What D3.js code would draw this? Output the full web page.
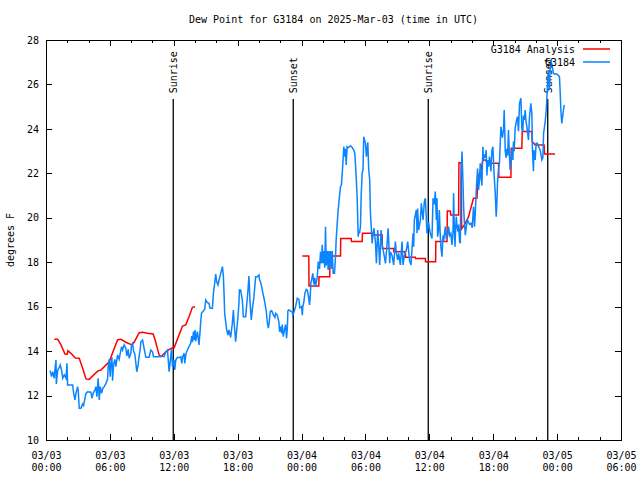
<!DOCTYPE html>
<html><head><meta charset="utf-8">
<script src="https://cdn.jsdelivr.net/npm/d3@7/dist/d3.min.js"></script>
<style>
body{margin:0;background:#fff}
svg{display:block}
text{font-family:"DejaVu Sans Mono","Liberation Mono",monospace;font-size:10px;fill:#000}
</style>
</head><body>
<svg id="chart" width="640" height="480"></svg>
<script>
// ---------- data ----------
const titleText = "Dew Point for G3184 on 2025-Mar-03 (time in UTC)";
const yLabelText = "degrees F";
// hours since 03/03 00:00 UTC
const xTickHours = [0, 6, 12, 18, 24, 30, 36, 42, 48, 54];
const xTickDates = ["03/03","03/03","03/03","03/03","03/04","03/04","03/04","03/04","03/05","03/05"];
const xTickTimes = ["00:00","06:00","12:00","18:00","00:00","06:00","12:00","18:00","00:00","06:00"];
const yTicks = [10, 12, 14, 16, 18, 20, 22, 24, 26, 28];

const sunHours = [11.95, 23.22, 35.90, 47.12];
const sunLabels = ["Sunrise", "Sunset", "Sunrise", "Sunset"];

const seriesNames = ["G3184 Analysis", "G3184"];

// Analysis (red) - first segment
const analysisAHours = [0.78,1.10,1.41,1.78,2.00,2.06,2.34,2.75,3.12,3.44,3.75,4.06,4.85,5.16,5.93,6.72,7.03,7.50,8.06,8.28,8.75,9.07,9.53,10.06,10.25,10.62,10.78,11.25,11.72,12.03,12.50,12.82,13.13,13.43,13.75,14.00];
const analysisAValues = [14.53,14.53,14.28,13.87,13.86,14.02,13.90,13.69,13.68,13.23,12.75,12.73,13.10,13.15,13.52,14.50,14.53,14.40,14.28,14.40,14.83,14.85,14.80,14.77,14.50,13.83,13.75,13.97,14.12,14.15,14.73,15.13,15.18,15.55,15.97,16.00];
// Analysis (red) - second segment
const analysisBHours = [24.07,24.68,24.70,25.62,25.64,26.65,26.67,27.66,27.68,28.66,28.69,29.69,29.72,30.72,30.75,31.57,31.59,32.65,32.67,33.75,33.77,34.69,34.71,35.63,35.64,36.59,36.61,37.66,37.69,37.97,38.02,38.75,38.78,39.00,39.03,39.38,39.68,40.15,40.47,40.59,40.88,41.03,41.25,41.56,42.50,42.53,43.66,43.69,44.69,44.72,45.63,45.66,45.94,46.78,46.81,47.81];
const analysisBValues = [18.28,18.28,16.93,16.93,17.35,17.35,18.28,18.28,19.07,19.07,18.93,18.93,19.30,19.30,19.22,19.22,18.62,18.62,18.47,18.47,18.22,18.22,18.17,18.17,18.02,18.02,18.93,18.93,20.30,20.30,20.12,20.12,22.48,22.48,19.50,19.75,20.05,20.88,20.88,21.85,22.22,22.60,22.60,22.45,22.45,21.82,21.82,23.13,23.13,23.88,23.88,23.43,23.28,23.28,22.87,22.87];

// Observations (blue)
const obsHours = [0.38,0.53,0.63,0.78,0.84,0.94,0.97,1.10,1.25,1.34,1.47,1.57,1.72,1.88,1.97,2.03,2.50,2.60,2.72,2.81,2.97,3.03,3.12,3.28,3.44,3.53,3.75,3.91,4.22,4.31,4.43,4.59,4.69,4.78,4.90,5.00,5.09,5.22,5.34,5.47,5.63,5.78,5.84,5.93,6.03,6.09,6.19,6.25,6.35,6.47,6.56,6.72,6.87,6.97,7.10,7.19,7.34,7.50,7.59,7.72,7.81,7.97,8.03,8.13,8.22,8.34,8.44,8.53,8.65,8.75,8.84,8.91,9.07,9.22,9.38,9.68,9.84,10.00,10.10,10.62,10.78,11.09,11.25,11.41,11.56,11.65,11.78,11.88,12.03,12.09,12.19,12.35,12.50,12.66,12.75,12.84,12.97,13.03,13.15,13.28,13.43,13.59,13.69,13.75,13.85,13.90,14.00,14.06,14.22,14.37,14.47,14.53,14.60,14.78,14.91,15.00,15.16,15.31,15.40,15.63,15.72,15.84,15.94,16.03,16.15,16.25,16.41,16.57,16.66,16.72,16.78,16.97,17.09,17.18,17.34,17.50,17.60,17.65,17.81,17.91,18.03,18.12,18.16,18.28,18.44,18.53,18.75,18.97,19.06,19.15,19.28,19.38,19.53,19.69,19.85,20.00,20.06,20.16,20.25,20.37,20.47,20.56,20.69,20.78,20.88,20.97,21.06,21.19,21.37,21.50,21.56,21.72,21.87,21.94,22.03,22.13,22.19,22.28,22.41,22.50,22.59,22.66,22.72,22.81,23.13,23.18,23.28,23.44,23.50,23.60,23.75,23.84,24.00,24.07,24.12,24.22,24.31,24.44,24.53,24.63,24.75,24.82,24.87,24.94,25.06,25.15,25.25,25.31,25.47,25.57,25.69,25.78,25.88,25.94,26.03,26.09,26.18,26.25,26.32,26.41,26.50,26.56,26.63,26.72,26.81,26.88,26.97,27.09,27.19,27.25,27.35,27.44,27.56,27.66,27.75,27.87,27.97,28.06,28.13,28.19,28.28,28.38,28.59,28.69,28.90,29.00,29.06,29.13,29.22,29.32,29.37,29.44,29.53,29.60,29.69,29.77,29.84,30.00,30.09,30.22,30.31,30.40,30.47,30.63,30.72,30.80,30.94,31.03,31.15,31.25,31.34,31.47,31.57,31.72,31.88,32.03,32.13,32.28,32.34,32.50,32.65,32.81,32.91,33.03,33.12,33.28,33.44,33.53,33.66,33.84,33.97,34.15,34.28,34.47,34.53,34.59,34.78,34.85,34.90,35.00,35.16,35.25,35.41,35.53,35.63,35.72,35.78,35.93,36.03,36.09,36.25,36.35,36.47,36.56,36.66,36.72,36.78,36.87,36.94,37.03,37.10,37.19,37.28,37.34,37.50,37.59,37.69,37.81,37.90,38.02,38.13,38.22,38.28,38.34,38.41,38.47,38.53,38.60,38.69,38.75,38.84,38.91,38.97,39.07,39.16,39.22,39.28,39.38,39.47,39.59,39.68,39.78,39.91,40.03,40.15,40.25,40.34,40.41,40.53,40.62,40.72,40.78,40.85,40.94,41.03,41.09,41.16,41.25,41.34,41.41,41.47,41.56,41.65,41.72,41.78,41.88,41.97,42.09,42.19,42.28,42.35,42.40,42.50,42.59,42.72,42.87,42.97,43.03,43.13,43.22,43.28,43.36,43.43,43.53,43.59,43.75,43.85,43.90,43.97,44.06,44.16,44.28,44.37,44.47,44.60,44.69,44.78,44.84,44.91,45.00,45.09,45.16,45.31,45.40,45.53,45.63,45.68,45.78,45.82,45.94,46.03,46.15,46.25,46.41,46.57,46.66,46.73,46.88,46.97,47.03,47.09,47.16,47.22,47.28,47.34,47.41,47.50,47.58,47.65,47.72,47.97,48.22,48.28,48.35,48.44,48.53,48.59,48.68,48.75];
const obsValues = [13.12,12.85,13.07,12.78,13.18,13.60,12.52,13.15,13.27,13.38,13.12,12.78,12.93,12.78,13.45,12.48,12.48,12.10,11.80,12.10,12.40,12.20,11.43,11.43,11.62,11.55,12.10,12.17,12.15,11.88,12.10,12.25,12.40,11.95,12.78,11.80,12.40,12.10,12.33,12.40,12.55,12.73,13.30,13.63,12.85,13.45,13.72,12.67,13.40,13.63,13.30,13.83,13.63,13.90,14.20,14.05,14.28,14.12,13.78,14.08,13.68,13.90,14.28,14.35,14.00,13.87,13.45,13.07,13.38,13.80,14.05,14.42,14.50,14.10,13.72,13.72,14.05,13.97,13.75,13.75,13.78,13.75,13.97,14.05,13.07,13.45,14.08,13.30,13.60,13.15,13.60,13.72,13.70,13.75,13.45,13.75,13.90,13.45,13.90,14.05,14.20,14.35,14.68,14.40,14.88,14.50,14.95,14.45,14.88,14.28,14.90,15.32,15.70,15.80,15.88,16.30,16.18,16.15,15.93,15.93,16.60,17.05,17.47,17.12,16.98,17.20,17.50,17.80,17.35,16.60,15.70,14.95,14.72,14.95,14.62,15.25,15.85,15.40,14.42,14.95,15.55,16.15,16.75,16.75,16.30,15.55,15.55,16.75,17.38,16.30,15.40,15.90,16.45,17.35,17.35,17.43,17.20,17.10,16.90,16.60,16.38,16.15,15.78,15.32,15.03,15.32,15.78,15.82,15.62,15.52,15.70,15.62,15.32,14.87,15.10,14.80,15.20,14.65,15.00,15.20,14.58,15.00,15.82,15.85,15.75,15.62,15.75,16.00,16.15,16.38,16.33,15.95,16.00,15.62,16.00,16.22,16.60,16.78,16.75,16.53,16.08,16.50,17.05,17.20,17.50,17.00,17.30,16.90,17.30,18.03,17.70,18.47,17.95,18.78,17.95,18.50,17.75,19.60,17.85,18.50,17.65,18.50,17.75,18.50,17.70,18.50,17.50,17.50,18.25,19.00,19.75,20.35,20.95,21.40,21.48,22.38,23.20,22.75,23.10,22.38,23.20,23.15,23.23,23.20,23.05,22.90,22.45,21.85,20.95,19.15,19.40,19.30,19.60,21.00,22.00,22.15,23.65,23.35,22.75,23.40,22.15,21.70,20.20,18.85,19.30,19.53,18.90,17.95,19.45,18.70,17.88,19.45,18.80,18.40,17.95,18.80,19.53,17.95,18.47,18.30,17.88,18.93,18.40,18.10,18.40,17.88,18.93,17.88,18.30,18.55,18.93,18.05,17.88,19.30,18.70,19.90,20.35,19.30,20.42,19.45,19.90,20.65,19.90,20.73,20.88,19.90,19.30,19.80,19.45,19.30,19.07,20.88,20.60,21.18,19.90,20.88,19.15,19.45,20.35,19.15,18.62,18.25,19.20,18.93,19.60,19.10,19.15,19.60,19.20,19.30,18.78,19.30,21.10,19.70,18.70,19.50,20.05,19.60,19.38,19.70,18.93,18.85,21.85,22.98,21.60,20.50,19.90,19.22,19.60,19.90,19.80,19.70,19.75,19.55,20.50,19.60,20.50,21.25,22.22,21.25,21.75,22.45,21.90,21.45,23.20,22.60,22.85,22.70,23.05,21.90,22.60,22.30,22.75,22.45,22.08,23.05,23.20,21.90,21.10,20.05,20.75,21.55,22.20,22.50,24.10,23.60,24.00,24.85,23.00,22.70,23.10,22.80,23.95,22.70,22.15,23.10,22.60,23.43,23.00,24.02,24.33,24.55,23.90,25.15,25.38,24.00,23.88,24.60,24.40,24.85,24.30,24.10,23.50,24.48,25.15,24.70,23.05,22.10,23.05,22.60,23.35,23.35,23.20,23.05,22.60,22.70,23.80,24.33,24.78,25.30,25.90,26.65,26.00,25.75,26.60,27.10,26.90,26.72,26.50,26.47,26.47,26.35,25.75,24.85,24.25,24.60,24.85,25.08];

// ---------- chart ----------
const plot = {left: 46, right: 621, top: 40, bottom: 440};
const svg = d3.select("#chart");

const x = d3.scaleLinear().domain([0, 54]).range([plot.left, plot.right]);
const y = d3.scaleLinear().domain([10, 28]).range([plot.bottom, plot.top]);

const RED = "#ff0000", BLUE = "#0a84ff";

// title
svg.append("text").attr("x", (plot.left + plot.right) / 2).attr("y", 23)
  .attr("text-anchor", "middle").text(titleText);

// y label
svg.append("text").attr("transform", "translate(14,240) rotate(-90)")
  .attr("text-anchor", "middle").text(yLabelText);

// axes
const majorX = d3.axisBottom(x).tickValues(xTickHours).tickSize(-6).tickFormat("");
const minorHours = d3.range(0, 55, 2).filter(h => h % 6 !== 0);
const minorX = d3.axisBottom(x).tickValues(minorHours).tickSize(-3).tickFormat("");
const majorXTop = d3.axisTop(x).tickValues(xTickHours).tickSize(-6).tickFormat("");
const minorXTop = d3.axisTop(x).tickValues(minorHours).tickSize(-3).tickFormat("");
const yLeft = d3.axisLeft(y).tickValues(yTicks).tickSize(-6).tickPadding(7).tickFormat(d3.format("d"));
const yRight = d3.axisRight(y).tickValues(yTicks).tickSize(-6).tickFormat("");

function styleAxis(g) {
  g.select(".domain").remove();
  g.selectAll(".tick line").attr("stroke", "#000").attr("shape-rendering", "crispEdges");
  g.selectAll("text").attr("font-size", null).attr("font-family", null);
}

const gxb = svg.append("g").attr("transform", `translate(0,${plot.bottom})`).call(majorX).call(styleAxis);
svg.append("g").attr("transform", `translate(0,${plot.bottom})`).call(minorX).call(styleAxis);
svg.append("g").attr("transform", `translate(0,${plot.top})`).call(majorXTop).call(styleAxis);
svg.append("g").attr("transform", `translate(0,${plot.top})`).call(minorXTop).call(styleAxis);
const gyl = svg.append("g").attr("transform", `translate(${plot.left},0)`).call(yLeft).call(styleAxis);
svg.append("g").attr("transform", `translate(${plot.right},0)`).call(yRight).call(styleAxis);
gyl.selectAll(".tick text").attr("fill", "#000");

// two-line x tick labels
gxb.selectAll(".tick").each(function(d, i) {
  const t = d3.select(this).append("text").attr("text-anchor", "middle").attr("fill", "#000");
  t.append("tspan").attr("x", 0).attr("y", 19).text(xTickDates[i]);
  t.append("tspan").attr("x", 0).attr("y", 31).text(xTickTimes[i]);
});

// border
svg.append("rect").attr("x", plot.left).attr("y", plot.top)
  .attr("width", plot.right - plot.left).attr("height", plot.bottom - plot.top)
  .attr("fill", "none").attr("stroke", "#000").attr("stroke-width", 1)
  .attr("shape-rendering", "crispEdges");

// sunrise / sunset markers
const sunTop = 25.35;
sunHours.forEach((h, i) => {
  svg.append("line").attr("x1", x(h)).attr("x2", x(h))
    .attr("y1", y(sunTop)).attr("y2", plot.bottom)
    .attr("stroke", "#000").attr("stroke-width", 1.3);
  svg.append("text").attr("transform", `translate(${x(h) + 4},${y(25.6)}) rotate(-90)`)
    .attr("text-anchor", "start").text(sunLabels[i]);
});

// lines
const line = d3.line().x(d => x(d[0])).y(d => y(d[1]));
const zipPts = (a, b) => a.map((v, i) => [v, b[i]]);

svg.append("path").datum(zipPts(analysisAHours, analysisAValues))
  .attr("d", line).attr("fill", "none").attr("stroke", RED).attr("stroke-width", 1.5);
svg.append("path").datum(zipPts(analysisBHours, analysisBValues))
  .attr("d", line).attr("fill", "none").attr("stroke", RED).attr("stroke-width", 1.5);
svg.append("path").datum(zipPts(obsHours, obsValues))
  .attr("d", line).attr("fill", "none").attr("stroke", BLUE).attr("stroke-width", 1.5);

// legend
const legendColors = [RED, BLUE];
seriesNames.forEach((name, i) => {
  const yy = 49 + i * 13;
  svg.append("text").attr("x", 575).attr("y", yy + 4).attr("text-anchor", "end").text(name);
  svg.append("line").attr("x1", 583).attr("x2", 610).attr("y1", yy).attr("y2", yy)
    .attr("stroke", legendColors[i]).attr("stroke-width", 1.5);
});
</script>
</body></html>
